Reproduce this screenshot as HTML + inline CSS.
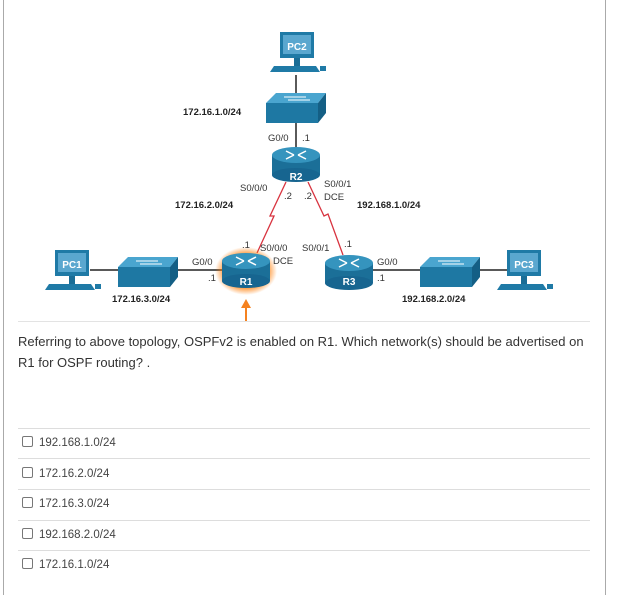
<!DOCTYPE html>
<html><head><meta charset="utf-8"><style>
body{margin:0;width:619px;height:595px;background:#fff;overflow:hidden;font-family:"Liberation Sans",sans-serif;position:relative}
.bl{position:absolute;left:3px;top:0;width:1px;height:595px;background:#aaa}
.br{position:absolute;left:605px;top:0;width:1px;height:595px;background:#aaa}
.q{position:absolute;left:18px;top:331px;font-size:13px;line-height:21px;color:#333;width:570px}
.sep{position:absolute;left:18px;width:572px;height:1px;background:#ddd}
.opt{position:absolute;left:22px;font-size:11.5px;color:#444}
.opt span{display:inline-block;width:9px;height:9px;border:1px solid #777;border-radius:2px;vertical-align:-1px;margin-right:6px}
</style></head><body>
<div class="bl"></div><div class="br"></div>
<svg width="619" height="330" style="position:absolute;left:0;top:0" font-family="Liberation Sans,sans-serif">
<defs>
<linearGradient id="sw" x1="0" y1="0" x2="0" y2="1"><stop offset="0" stop-color="#2f8fb8"/><stop offset="1" stop-color="#176d96"/></linearGradient>
<radialGradient id="gl"><stop offset="0.6" stop-color="#ff7a00"/><stop offset="1" stop-color="#ff7a00" stop-opacity="0"/></radialGradient>
<g id="pc"><rect x="0" y="0" width="34" height="26" fill="#1f7aa6"/><rect x="3" y="3" width="28" height="19" fill="#5aa7cf"/><polygon points="-6,34 36,34 40,40 -10,40" fill="#1f7aa6"/><rect x="14" y="26" width="6" height="8" fill="#1a6d96"/><rect x="40" y="34" width="6" height="5" fill="#1f7aa6"/></g>
<g id="sw1"><polygon points="10,0 60,0 52,10 0,10" fill="#4aa5cf"/><polygon points="0,10 52,10 52,30 0,30" fill="#1e78a3"/><polygon points="52,10 60,0 60,20 52,30" fill="#145f85"/><path d="M18,4h22M22,7h22" stroke="#fff" stroke-width="1"/></g>
<g id="rt"><rect x="0" y="8" width="48" height="20" fill="#1b6f98"/><ellipse cx="24" cy="28" rx="24" ry="7" fill="#176590"/><ellipse cx="24" cy="8" rx="24" ry="8" fill="#3594be"/><path d="M14,4l8,4M34,4l-8,4M14,12l8,-4M34,12l-8,-4" stroke="#fff" stroke-width="1.5"/></g>
</defs>
<line x1="296" y1="75" x2="296" y2="150" stroke="#222" stroke-width="1.5"/>
<line x1="90" y1="270" x2="230" y2="270" stroke="#222" stroke-width="1.5"/>
<line x1="370" y1="270" x2="510" y2="270" stroke="#222" stroke-width="1.5"/>
<polyline points="286,182 270,216 274,216 257,253" fill="none" stroke="#d8333f" stroke-width="1.3"/>
<polyline points="308,182 324,216 328,214 343,255" fill="none" stroke="#d8333f" stroke-width="1.3"/>
<use href="#pc" x="280" y="32"/><text x="297" y="50" font-size="10" font-weight="bold" fill="#fff" text-anchor="middle">PC2</text>
<use href="#sw1" x="266" y="93"/>
<use href="#rt" x="272" y="147"/><text x="296" y="180" font-size="10" font-weight="bold" fill="#fff" text-anchor="middle">R2</text>
<ellipse cx="246" cy="271" rx="31" ry="24" fill="url(#gl)"/>
<use href="#rt" x="222" y="253"/><text x="246" y="285" font-size="10" font-weight="bold" fill="#fff" text-anchor="middle">R1</text>
<use href="#rt" x="325" y="255"/><text x="349" y="285" font-size="10" font-weight="bold" fill="#fff" text-anchor="middle">R3</text>
<use href="#pc" x="55" y="250"/><text x="72" y="268" font-size="10" font-weight="bold" fill="#fff" text-anchor="middle">PC1</text>
<use href="#pc" x="507" y="250"/><text x="524" y="268" font-size="10" font-weight="bold" fill="#fff" text-anchor="middle">PC3</text>
<use href="#sw1" x="118" y="257"/><use href="#sw1" x="420" y="257"/>
<line x1="246" y1="322" x2="246" y2="304" stroke="#f58220" stroke-width="2"/><polygon points="241,308 246,299 251,308" fill="#f58220"/>
<g font-size="9.5" font-weight="bold" fill="#222">
<text x="183" y="115">172.16.1.0/24</text><text x="175" y="208">172.16.2.0/24</text><text x="357" y="208">192.168.1.0/24</text>
<text x="112" y="302">172.16.3.0/24</text><text x="402" y="302">192.168.2.0/24</text></g>
<g font-size="9.5" fill="#333">
<text x="268" y="141">G0/0</text><text x="302" y="141">.1</text>
<text x="240" y="191">S0/0/0</text><text x="284" y="199">.2</text><text x="304" y="199">.2</text>
<text x="324" y="187">S0/0/1</text><text x="324" y="200">DCE</text>
<text x="242" y="248">.1</text><text x="260" y="251">S0/0/0</text><text x="273" y="264">DCE</text>
<text x="302" y="251">S0/0/1</text><text x="344" y="247">.1</text>
<text x="192" y="265">G0/0</text><text x="208" y="281">.1</text>
<text x="377" y="265">G0/0</text><text x="377" y="281">.1</text></g>
<line x1="18" y1="321.5" x2="590" y2="321.5" stroke="#e3e3e3"/>
</svg>
<div class="q">Referring to above topology, OSPFv2 is enabled on R1. Which network(s) should be advertised on R1 for OSPF routing? .</div>
<div class="sep" style="top:428px"></div>
<div class="opt" style="top:436px"><span></span>192.168.1.0/24</div>
<div class="sep" style="top:458px"></div>
<div class="opt" style="top:467px"><span></span>172.16.2.0/24</div>
<div class="sep" style="top:489px"></div>
<div class="opt" style="top:497px"><span></span>172.16.3.0/24</div>
<div class="sep" style="top:520px"></div>
<div class="opt" style="top:528px"><span></span>192.168.2.0/24</div>
<div class="sep" style="top:550px"></div>
<div class="opt" style="top:558px"><span></span>172.16.1.0/24</div>
</body></html>
